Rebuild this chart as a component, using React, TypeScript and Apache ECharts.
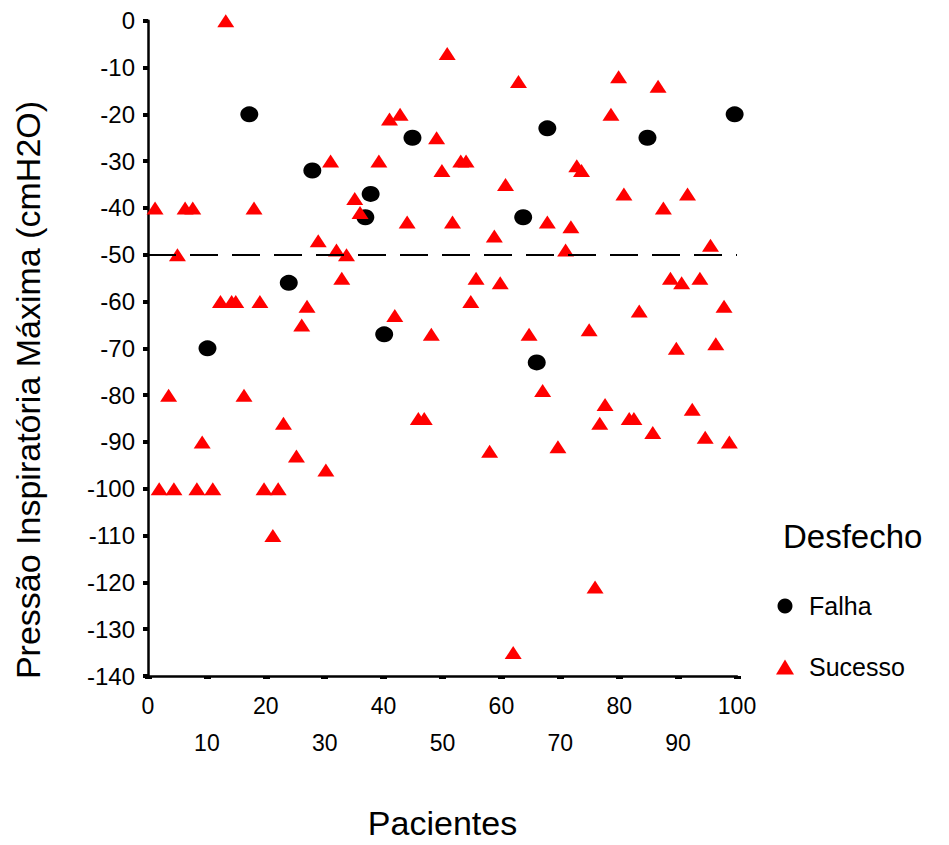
import React, { useEffect, useRef } from "react";
import * as echarts from "echarts";

const FONT = "'Liberation Sans', Arial, Helvetica, sans-serif";

const xTicks = [0, 10, 20, 30, 40, 50, 60, 70, 80, 90, 100];
const yTicks = [0, -10, -20, -30, -40, -50, -60, -70, -80, -90, -100, -110, -120, -130, -140];
const seriesNames = ["Falha", "Sucesso"];
const cutoff = -50;

const falhaX = [10.1, 17.2, 23.9, 27.9, 36.9, 37.8, 40.1, 44.9, 63.7, 66, 67.8, 84.8, 99.6];
const falhaY = [-70, -20, -56, -32, -42, -37, -67, -25, -42, -73, -23, -25, -20];

const sucessoX = [
  1.2, 1.9, 3.5, 4.4, 5, 6.3, 7.6, 8.3, 9.2, 11, 12.3, 13.2, 14.2, 14.9, 16.3, 18, 19, 19.7, 21.2, 22.1,
  23, 25.2, 26.1, 27, 28.9, 30.2, 31, 32, 32.9, 33.7, 35.1, 36, 39.2, 41, 41.9, 42.8, 44, 45.9, 46.9, 48.1,
  49, 49.9, 50.8, 51.7, 53.1, 54, 54.8, 55.7, 58, 58.8, 59.8, 60.7, 62, 62.9, 64.7, 67, 67.8, 69.6, 70.9, 71.8,
  72.8, 73.6, 74.9, 75.9, 76.7, 77.6, 78.6, 79.9, 80.8, 81.7, 82.5, 83.4, 85.7, 86.6, 87.5, 88.7, 89.7, 90.6,
  91.6, 92.4, 93.7, 94.6, 95.5, 96.4, 97.8, 98.7,
];
const sucessoY = [
  -40, -100, -80, -100, -50, -40, -40, -100, -90, -100, -60, 0, -60, -60, -80, -40, -60, -100, -110, -100,
  -86, -93, -65, -61, -47, -96, -30, -49, -55, -50, -38, -41, -30, -21, -63, -20, -43, -85, -85, -67,
  -25, -32, -7, -43, -30, -30, -60, -55, -92, -46, -56, -35, -135, -13, -67, -79, -43, -91, -49, -44,
  -31, -32, -66, -121, -86, -82, -20, -12, -37, -85, -85, -62, -88, -14, -40, -55, -70, -56,
  -37, -83, -55, -89, -48, -69, -61, -90,
];

export default function App() {
  const ref = useRef<HTMLDivElement>(null);

  useEffect(() => {
    if (!ref.current) return;
    const chart = echarts.init(ref.current, undefined, { renderer: "svg" });
    const option: any = {
      animation: false,
      backgroundColor: "#ffffff",
      textStyle: { fontFamily: FONT, color: "#000" },
      grid: { left: 148, right: 212, top: 20.7, bottom: 164.3, containLabel: false },
      xAxis: {
        type: "value",
        min: xTicks[0],
        max: xTicks[xTicks.length - 1],
        interval: 10,
        name: "Pacientes",
        nameLocation: "middle",
        nameGap: 130,
        nameTextStyle: { fontSize: 34, color: "#000", fontFamily: FONT },
        axisLine: { show: true, onZero: false, lineStyle: { color: "#000", width: 2.5 } },
        axisTick: { show: true, length: 3, lineStyle: { color: "#000", width: 7 } },
        axisLabel: {
          fontSize: 23,
          color: "#000",
          fontFamily: FONT,
          lineHeight: 37,
          margin: 11,
          formatter: (v: number) => (Math.round(v / 10) % 2 === 1 ? "\n" + v : "" + v),
        },
        splitLine: { show: false },
      },
      yAxis: {
        type: "value",
        min: yTicks[yTicks.length - 1],
        max: yTicks[0],
        interval: 10,
        axisLine: { show: true, onZero: false, lineStyle: { color: "#000", width: 2.5 } },
        axisTick: { show: true, length: 5, lineStyle: { color: "#000", width: 4 } },
        axisLabel: { fontSize: 24, color: "#000", fontFamily: FONT, margin: 13 },
        splitLine: { show: false },
      },
      legend: {
        orient: "vertical",
        left: 771,
        top: 588,
        itemWidth: 18,
        itemHeight: 15,
        itemGap: 35,
        data: seriesNames,
        textStyle: { fontSize: 25, color: "#000", fontFamily: FONT, lineHeight: 26, padding: [0, 0, 0, 10] },
      },
      graphic: [
        {
          type: "text",
          x: 28,
          y: 390,
          rotation: Math.PI / 2,
          style: {
            text: "Pressão Inspiratória Máxima (cmH2O)",
            fontSize: 34,
            fontFamily: FONT,
            fill: "#000",
            align: "center",
            verticalAlign: "middle",
          },
        },
        {
          type: "text",
          x: 783,
          y: 536,
          style: {
            text: "Desfecho",
            fontSize: 33,
            fontFamily: FONT,
            fill: "#000",
            align: "left",
            verticalAlign: "middle",
          },
        },
      ],
      series: [
        {
          name: seriesNames[0],
          type: "scatter",
          symbol: "circle",
          symbolSize: [18, 16],
          itemStyle: { color: "#000000", opacity: 1 },
          data: falhaX.map((x, i) => [x, falhaY[i]]),
          markLine: {
            silent: true,
            symbol: ["none", "none"],
            label: { show: false },
            lineStyle: { color: "#000", width: 2, type: [28, 14] },
            data: [[{ coord: [xTicks[0], cutoff] }, { coord: [xTicks[xTicks.length - 1], cutoff] }]],
          },
        },
        {
          name: seriesNames[1],
          type: "scatter",
          symbol: "triangle",
          symbolSize: [17, 13],
          itemStyle: { color: "#ff0000", opacity: 1 },
          data: sucessoX.map((x, i) => [x, sucessoY[i]]),
        },
      ],
    };
    chart.setOption(option);
    return () => chart.dispose();
  }, []);

  return (
    <div
      ref={ref}
      style={{ position: "fixed", left: 0, top: 0, width: 949, height: 845, background: "#fff" }}
    />
  );
}
